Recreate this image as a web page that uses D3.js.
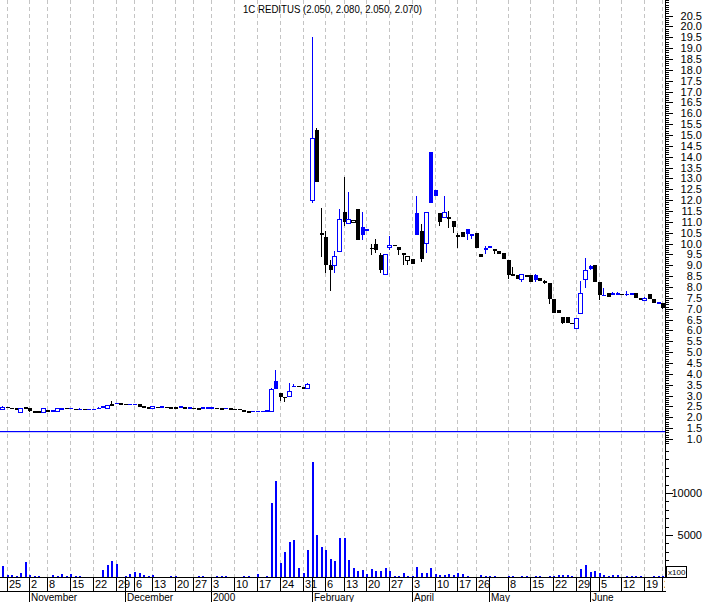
<!DOCTYPE html>
<html><head><meta charset="utf-8">
<script src="https://cdn.jsdelivr.net/npm/d3@7"></script>
<style>
body{margin:0;background:#fff}
svg{display:block}
text{font-family:"Liberation Sans",Arial,sans-serif;font-size:11px;fill:#000}
</style>
</head><body>
<svg id="c" width="705" height="602"></svg>
<script>
// ---- data (trading-day index -1 .. 144) ----
const firstIndex = -1;
const opens = [2.38,2.46,2.42,2.40,2.26,2.44,2.41,2.28,2.26,2.26,2.30,2.30,2.30,2.36,2.41,2.41,2.38,2.38,2.37,2.38,2.36,2.36,2.42,2.42,2.60,2.62,2.63,2.60,2.60,2.60,2.60,2.48,2.44,2.41,2.46,2.46,2.46,2.45,2.44,2.41,2.44,2.42,2.42,2.39,2.43,2.43,2.43,2.42,2.40,2.41,2.39,2.38,2.37,2.33,2.26,2.28,2.27,2.28,2.30,2.30,3.65,3.12,2.92,2.97,3.42,3.42,3.40,3.33,12.00,15.22,10.45,10.30,8.99,9.00,9.64,11.43,10.94,10.97,11.59,10.76,10.67,9.80,10.00,9.46,8.60,9.83,9.92,9.84,9.57,9.26,9.31,11.40,10.59,10.03,14.20,12.47,11.40,11.22,11.13,11.05,10.35,10.55,10.67,10.36,10.49,9.54,9.72,9.90,9.72,9.67,9.57,9.26,8.60,8.53,8.38,8.45,8.53,8.53,8.42,8.27,8.19,7.46,6.92,6.63,6.63,6.33,6.13,6.82,8.38,8.96,9.03,8.22,7.62,7.70,7.73,7.68,7.66,7.66,7.68,7.70,7.50,7.39,7.66,7.46,7.28,7.24];
const highs = [2.50,2.46,2.44,2.40,2.41,2.46,2.41,2.28,2.26,2.43,2.30,2.30,2.42,2.42,2.41,2.42,2.38,2.42,2.38,2.38,2.38,2.46,2.50,2.57,2.77,2.65,2.64,2.62,2.62,2.60,2.60,2.48,2.44,2.53,2.46,2.48,2.46,2.46,2.44,2.51,2.44,2.45,2.42,2.40,2.44,2.43,2.45,2.42,2.41,2.42,2.39,2.38,2.38,2.33,2.27,2.29,2.27,2.28,2.30,3.35,4.20,3.12,2.92,3.60,3.55,3.42,3.40,3.60,19.50,15.30,11.63,10.56,9.26,9.64,11.59,13.08,12.37,11.10,11.59,11.43,10.67,10.00,10.23,9.57,9.54,10.36,9.95,9.84,9.57,9.44,9.31,12.17,10.91,11.43,14.20,12.47,11.40,12.17,11.48,11.05,10.49,10.55,10.67,10.45,10.49,9.54,9.87,9.90,9.72,9.67,9.57,9.26,8.90,8.53,8.60,8.53,8.53,8.60,8.42,8.30,8.19,7.46,6.92,6.63,6.63,6.33,6.55,8.27,9.34,9.00,9.03,8.22,7.95,7.70,7.75,7.75,7.66,7.80,7.68,7.70,7.50,7.55,7.66,7.46,7.28,7.24];
const lows = [2.38,2.44,2.41,2.38,2.26,2.38,2.26,2.20,2.22,2.26,2.30,2.30,2.30,2.36,2.41,2.40,2.38,2.38,2.37,2.38,2.35,2.36,2.42,2.42,2.50,2.62,2.63,2.60,2.60,2.60,2.48,2.47,2.44,2.41,2.46,2.46,2.46,2.45,2.44,2.41,2.44,2.42,2.42,2.39,2.43,2.43,2.43,2.42,2.40,2.41,2.39,2.38,2.37,2.27,2.26,2.24,2.27,2.28,2.30,2.28,3.30,2.75,2.72,2.97,3.40,3.40,3.28,3.33,11.86,12.85,9.39,8.65,7.81,8.65,9.64,10.79,10.94,10.95,10.15,10.15,10.56,9.46,9.57,8.65,8.60,9.72,9.90,9.46,9.03,9.03,9.06,10.41,9.14,9.57,11.86,12.17,10.79,11.22,10.72,10.49,9.80,10.30,10.18,10.20,9.80,9.39,9.50,9.80,9.50,9.52,9.29,8.38,8.50,8.38,8.22,8.45,8.22,8.25,8.27,8.15,7.23,6.82,6.80,6.30,6.34,6.30,6.10,6.74,7.96,8.80,8.22,7.39,7.62,7.53,7.64,7.65,7.66,7.57,7.66,7.50,7.39,7.35,7.43,7.24,7.23,7.00];
const closes = [2.49,2.44,2.42,2.38,2.41,2.40,2.28,2.23,2.22,2.41,2.30,2.30,2.42,2.42,2.41,2.41,2.38,2.38,2.37,2.38,2.38,2.45,2.50,2.56,2.50,2.64,2.63,2.60,2.60,2.60,2.48,2.47,2.44,2.52,2.46,2.48,2.46,2.45,2.44,2.50,2.44,2.44,2.42,2.39,2.43,2.43,2.43,2.42,2.40,2.41,2.39,2.38,2.37,2.27,2.26,2.27,2.27,2.28,2.30,3.30,3.32,2.95,2.90,3.22,3.42,3.40,3.30,3.53,14.84,12.85,10.41,9.03,8.77,9.41,11.13,10.97,11.13,11.08,10.15,10.41,10.56,9.75,9.69,8.77,9.54,9.95,9.92,9.69,9.46,9.44,9.06,10.41,9.31,11.43,11.86,12.17,10.97,11.43,11.22,10.76,10.35,10.32,10.44,10.45,9.80,9.39,9.80,9.80,9.70,9.52,9.29,8.53,8.50,8.38,8.60,8.53,8.22,8.31,8.27,8.22,7.46,6.82,6.80,6.36,6.34,6.30,6.55,7.73,8.80,8.85,8.22,7.62,7.62,7.53,7.64,7.68,7.66,7.66,7.66,7.50,7.39,7.50,7.43,7.24,7.24,7.04];
const volumes = [1310,240,240,130,480,1790,200,130,130,0,0,240,130,360,130,360,130,130,0,0,0,0,830,1430,1900,1550,0,130,360,600,480,240,130,240,0,0,0,130,130,0,0,0,0,130,130,0,0,130,130,130,0,0,0,130,130,0,360,0,130,8850,11430,1670,2980,4170,4400,1070,480,3210,13690,5000,3570,3210,2140,1900,4680,4680,2020,1070,710,830,320,950,710,710,1070,710,120,120,480,120,120,1190,480,480,1070,360,240,240,360,240,480,360,120,0,0,240,120,120,120,0,0,130,90,0,130,130,0,130,130,0,130,130,240,240,240,130,0,950,1430,600,710,480,240,130,240,240,0,130,130,130,130,0,0,130,130,130];

const weekIndex  = [0,5,9,14,19,24,28,32,37,41,45,50,55,60,65,70,74,79,84,89,94,99,103,110,115,120,125,130,135,140,144];
const weekLabels = ["25","2","8","15","22","29","6","13","20","27","3","10","17","24","31","6","13","20","27","3","10","17","26","8","15","22","29","5","12","19","26"];
const monthIndex  = [5,26,45,67,89,106,128];
const monthLabels = ["November","December","2000","February","April","May","June"];
const priceLabels = d3.range(2, 42).map(k => k / 2);   // 1.0 .. 20.5
const volumeLabels = [5000, 10000];
const refLevel = 1.37;
const title = "1C REDITUS (2.050, 2.080, 2.050, 2.070)";

// ---- layout ----
const plotR = 665, volBase = 577, dayRow = 591, bottom = 602;
const BLUE = "#0000ff", BLACK = "#000000";

const x = d3.scaleLinear().domain([0, 140]).range([6.5, 644.2]);
const yP = d3.scaleLinear().domain([1, 20.5]).range([439, 15.5]);
const yV = d3.scaleLinear().domain([0, 10000]).range([volBase, 493]);
const px = i => Math.round(x(i));

const svg = d3.select("#c");
const defs = svg.append("defs");
defs.append("clipPath").attr("id","clip")
  .append("rect").attr("x",0).attr("y",0).attr("width",plotR).attr("height",volBase);
defs.append("clipPath").attr("id","clipD")
  .append("rect").attr("x",0).attr("y",volBase).attr("width",plotR).attr("height",bottom-volBase);

// dashed week grid
svg.append("g").attr("shape-rendering","crispEdges")
  .selectAll("line").data(weekIndex).join("line")
  .attr("x1", d => px(d)+0.5).attr("x2", d => px(d)+0.5)
  .attr("y1", 0).attr("y2", volBase)
  .attr("stroke", "#c4c4c4").attr("stroke-dasharray", "4,3");

// reference level line
svg.append("rect").attr("x",0).attr("width",plotR)
  .attr("y", Math.round(yP(refLevel))).attr("height", 1.2)
  .attr("fill", BLUE);

// candles
const days = opens.map((o,k) => ({i:k+firstIndex, o, h:highs[k], l:lows[k], c:closes[k], v:volumes[k],
  pc: k>0 ? closes[k-1] : o}));
const gC = svg.append("g").attr("clip-path","url(#clip)").attr("shape-rendering","crispEdges");
days.forEach(d => {
  const col = d.c >= d.pc ? BLUE : BLACK;
  const cx = px(d.i);
  gC.append("line").attr("x1",cx+0.5).attr("x2",cx+0.5)
    .attr("y1", yP(d.h)).attr("y2", yP(d.l)).attr("stroke", col);
  const yt = yP(Math.max(d.o,d.c)), yb = yP(Math.min(d.o,d.c));
  if (d.c > d.o && yb - yt >= 2) {
    gC.append("rect").attr("x", cx-1.5).attr("y", Math.round(yt)+0.5)
      .attr("width", 4).attr("height", Math.max(1, Math.round(yb)-Math.round(yt)))
      .attr("fill","#fff").attr("stroke", col);
  } else {
    const h = Math.max(1.5, yb - yt);
    gC.append("rect").attr("x", cx-1.5).attr("y", yt - (yb-yt<1 ? 0.5 : 0))
      .attr("width", 4.5).attr("height", h).attr("fill", col);
  }
});

// volume bars
svg.append("g").attr("shape-rendering","crispEdges")
  .selectAll("rect").data(days.filter(d => d.v > 0)).join("rect")
  .attr("x", d => px(d.i)).attr("width", 1.5)
  .attr("y", d => yV(d.v)).attr("height", d => volBase - yV(d.v))
  .attr("fill", BLUE);

// right axis
const ax = svg.append("g").attr("transform", `translate(${plotR},0)`).attr("shape-rendering","crispEdges");
ax.append("line").attr("x1",0.5).attr("x2",0.5).attr("y1",0).attr("y2",volBase).attr("stroke",BLACK);
const minorP = d3.range(9, 213).map(k => k/10);
ax.append("g").call(d3.axisRight(yP).tickValues(minorP).tickSize(4).tickFormat(""))
  .call(g => g.select(".domain").remove());
ax.append("g").call(d3.axisRight(yP).tickValues(priceLabels).tickSize(8).tickFormat(d3.format(".1f")))
  .call(g => g.select(".domain").remove())
  .call(g => g.selectAll("text").attr("x", 37).attr("text-anchor","end")
     .style("font-family",'"Liberation Sans",Arial,sans-serif').style("font-size","11px"));
const minorV = d3.range(1000, 17000, 1000);
ax.append("g").call(d3.axisRight(yV).tickValues(minorV).tickSize(4).tickFormat(""))
  .call(g => g.select(".domain").remove());
ax.append("g").call(d3.axisRight(yV).tickValues(volumeLabels).tickSize(8).tickFormat(d3.format("d")))
  .call(g => g.select(".domain").remove())
  .call(g => g.selectAll("text").attr("x", 37).attr("text-anchor","end")
     .style("font-family",'"Liberation Sans",Arial,sans-serif').style("font-size","11px"));
// x100 box
ax.append("rect").attr("x",1.5).attr("y",566.5).attr("width",20).attr("height",11)
  .attr("fill","#fff").attr("stroke",BLACK);
ax.append("text").attr("x",3).attr("y",575).text("x100").style("font-size","8px");

// date axis
const gd = svg.append("g").attr("shape-rendering","crispEdges");
gd.append("line").attr("x1",0).attr("x2",plotR+1).attr("y1",volBase+0.5).attr("y2",volBase+0.5).attr("stroke",BLACK);
gd.append("line").attr("x1",0).attr("x2",plotR+1).attr("y1",dayRow+0.5).attr("y2",dayRow+0.5).attr("stroke",BLACK);
gd.selectAll(".wt").data(weekIndex).join("line").attr("class","wt")
  .attr("x1", d => px(d)+0.5).attr("x2", d => px(d)+0.5)
  .attr("y1", volBase).attr("y2", dayRow).attr("stroke", BLACK);
gd.selectAll(".mt").data(monthIndex).join("line").attr("class","mt")
  .attr("x1", d => px(d)+0.5).attr("x2", d => px(d)+0.5)
  .attr("y1", volBase).attr("y2", bottom).attr("stroke", BLACK);
const gdl = svg.append("g").attr("clip-path","url(#clipD)");
gdl.selectAll(".wl").data(weekIndex).join("text").attr("class","wl")
  .attr("x", d => px(d)+2).attr("y", 588).text((d,k) => weekLabels[k]);
gdl.selectAll(".ml").data(monthIndex).join("text").attr("class","ml")
  .attr("x", d => px(d)+2).attr("y", 601).style("font-size","10px").text((d,k) => monthLabels[k]);

// title
svg.append("text").attr("x", 243).attr("y", 13).attr("textLength", 179)
  .attr("lengthAdjust","spacingAndGlyphs").text(title);
</script>
</body></html>
